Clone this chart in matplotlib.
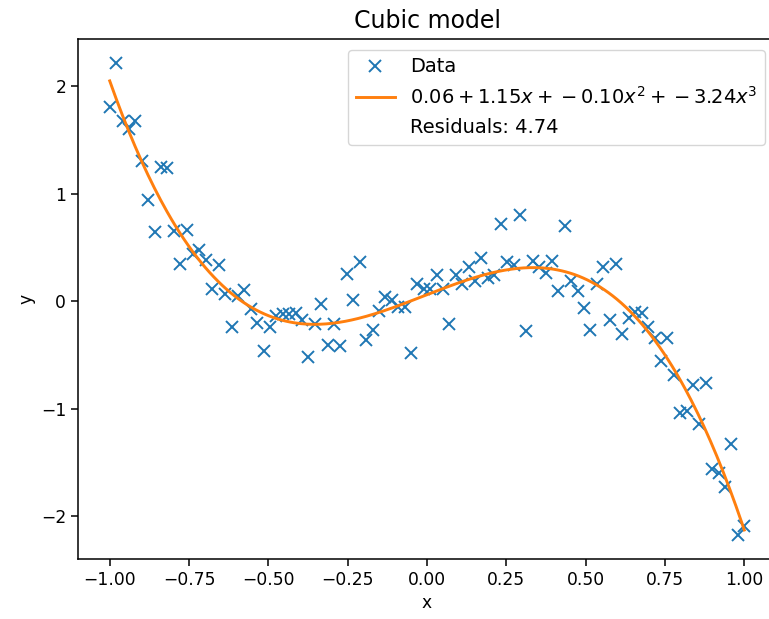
import numpy as np
import matplotlib
matplotlib.use("Agg")
import matplotlib.pyplot as plt

# ---- data ----
x_data = np.linspace(-1.0, 1.0, 100)
y_data = [
    1.81, 2.22, 1.68, 1.60, 1.68, 1.30, 0.94, 0.64, 1.25, 1.24,
    0.65, 0.35, 0.66, 0.44, 0.48, 0.38, 0.11, 0.34, 0.07, -0.24,
    0.05, 0.10, -0.07, -0.20, -0.46, -0.24, -0.14, -0.12, -0.12, -0.11,
    -0.18, -0.52, -0.21, -0.03, -0.41, -0.21, -0.42, 0.25, 0.01, 0.36,
    -0.36, -0.27, -0.09, 0.04, 0.01, -0.05, -0.05, -0.48, 0.16, 0.11,
    0.11, 0.24, 0.11, -0.21, 0.24, 0.16, 0.32, 0.19, 0.40, 0.22,
    0.24, 0.72, 0.36, 0.34, 0.80, -0.28, 0.37, 0.32, 0.26, 0.37,
    0.09, 0.70, 0.19, 0.09, -0.06, -0.27, 0.16, 0.32, -0.18, 0.35,
    -0.31, -0.16, -0.10, -0.11, -0.24, -0.34, -0.56, -0.34, -0.69, -1.04,
    -1.02, -0.78, -1.14, -0.76, -1.56, -1.60, -1.73, -1.33, -2.18, -2.09,
]
coeffs = [0.06, 1.15, -0.10, -3.24]   # c0 + c1 x + c2 x^2 + c3 x^3
residuals = 4.74
title = "Cubic model"
xticks = [-1.0, -0.75, -0.5, -0.25, 0.0, 0.25, 0.5, 0.75, 1.0]
yticks = [-2, -1, 0, 1, 2]

# ---- figure ----
W, H = 769, 619
fig = plt.figure(figsize=(W / 100, H / 100), dpi=100)
plt.rcParams["font.size"] = 12.3
left, right, top, bottom = 78, 776, 39, 559
ax = fig.add_axes([left / W, 1 - bottom / H, (right - left) / W, (bottom - top) / H])

ax.plot(x_data, y_data, "x", color="#1f77b4", markersize=8.5, markeredgewidth=1.4,
        label="Data")

x_fit = np.linspace(-1.0, 1.0, 300)
y_fit = np.polynomial.polynomial.polyval(x_fit, coeffs)
label = (f"${coeffs[0]:.2f} + {coeffs[1]:.2f}x + {coeffs[2]:.2f}x^2 + "
         f"{coeffs[3]:.2f}x^3$")
ax.plot(x_fit, y_fit, "-", color="#ff7f0e", linewidth=2.1, label=label)
ax.plot([], [], " ", label=f"Residuals: {residuals:.2f}")

ax.set_xticks(xticks)
ax.set_xticklabels([f"{t:.2f}".replace("-", "\u2212") for t in xticks])
ax.set_yticks(yticks)
ax.tick_params(labelsize=12.3, length=5, width=1.1)
for s in ax.spines.values():
    s.set_linewidth(1.1)

ax.set_xlabel("x", fontsize=12.3)
ax.set_ylabel("y", fontsize=12.3)
ax.set_title(title, fontsize=17, pad=8)
leg = ax.legend(loc="upper right", fontsize=14, borderaxespad=0.55,
                handlelength=2.0)

fig.savefig("out.png", dpi=100)
